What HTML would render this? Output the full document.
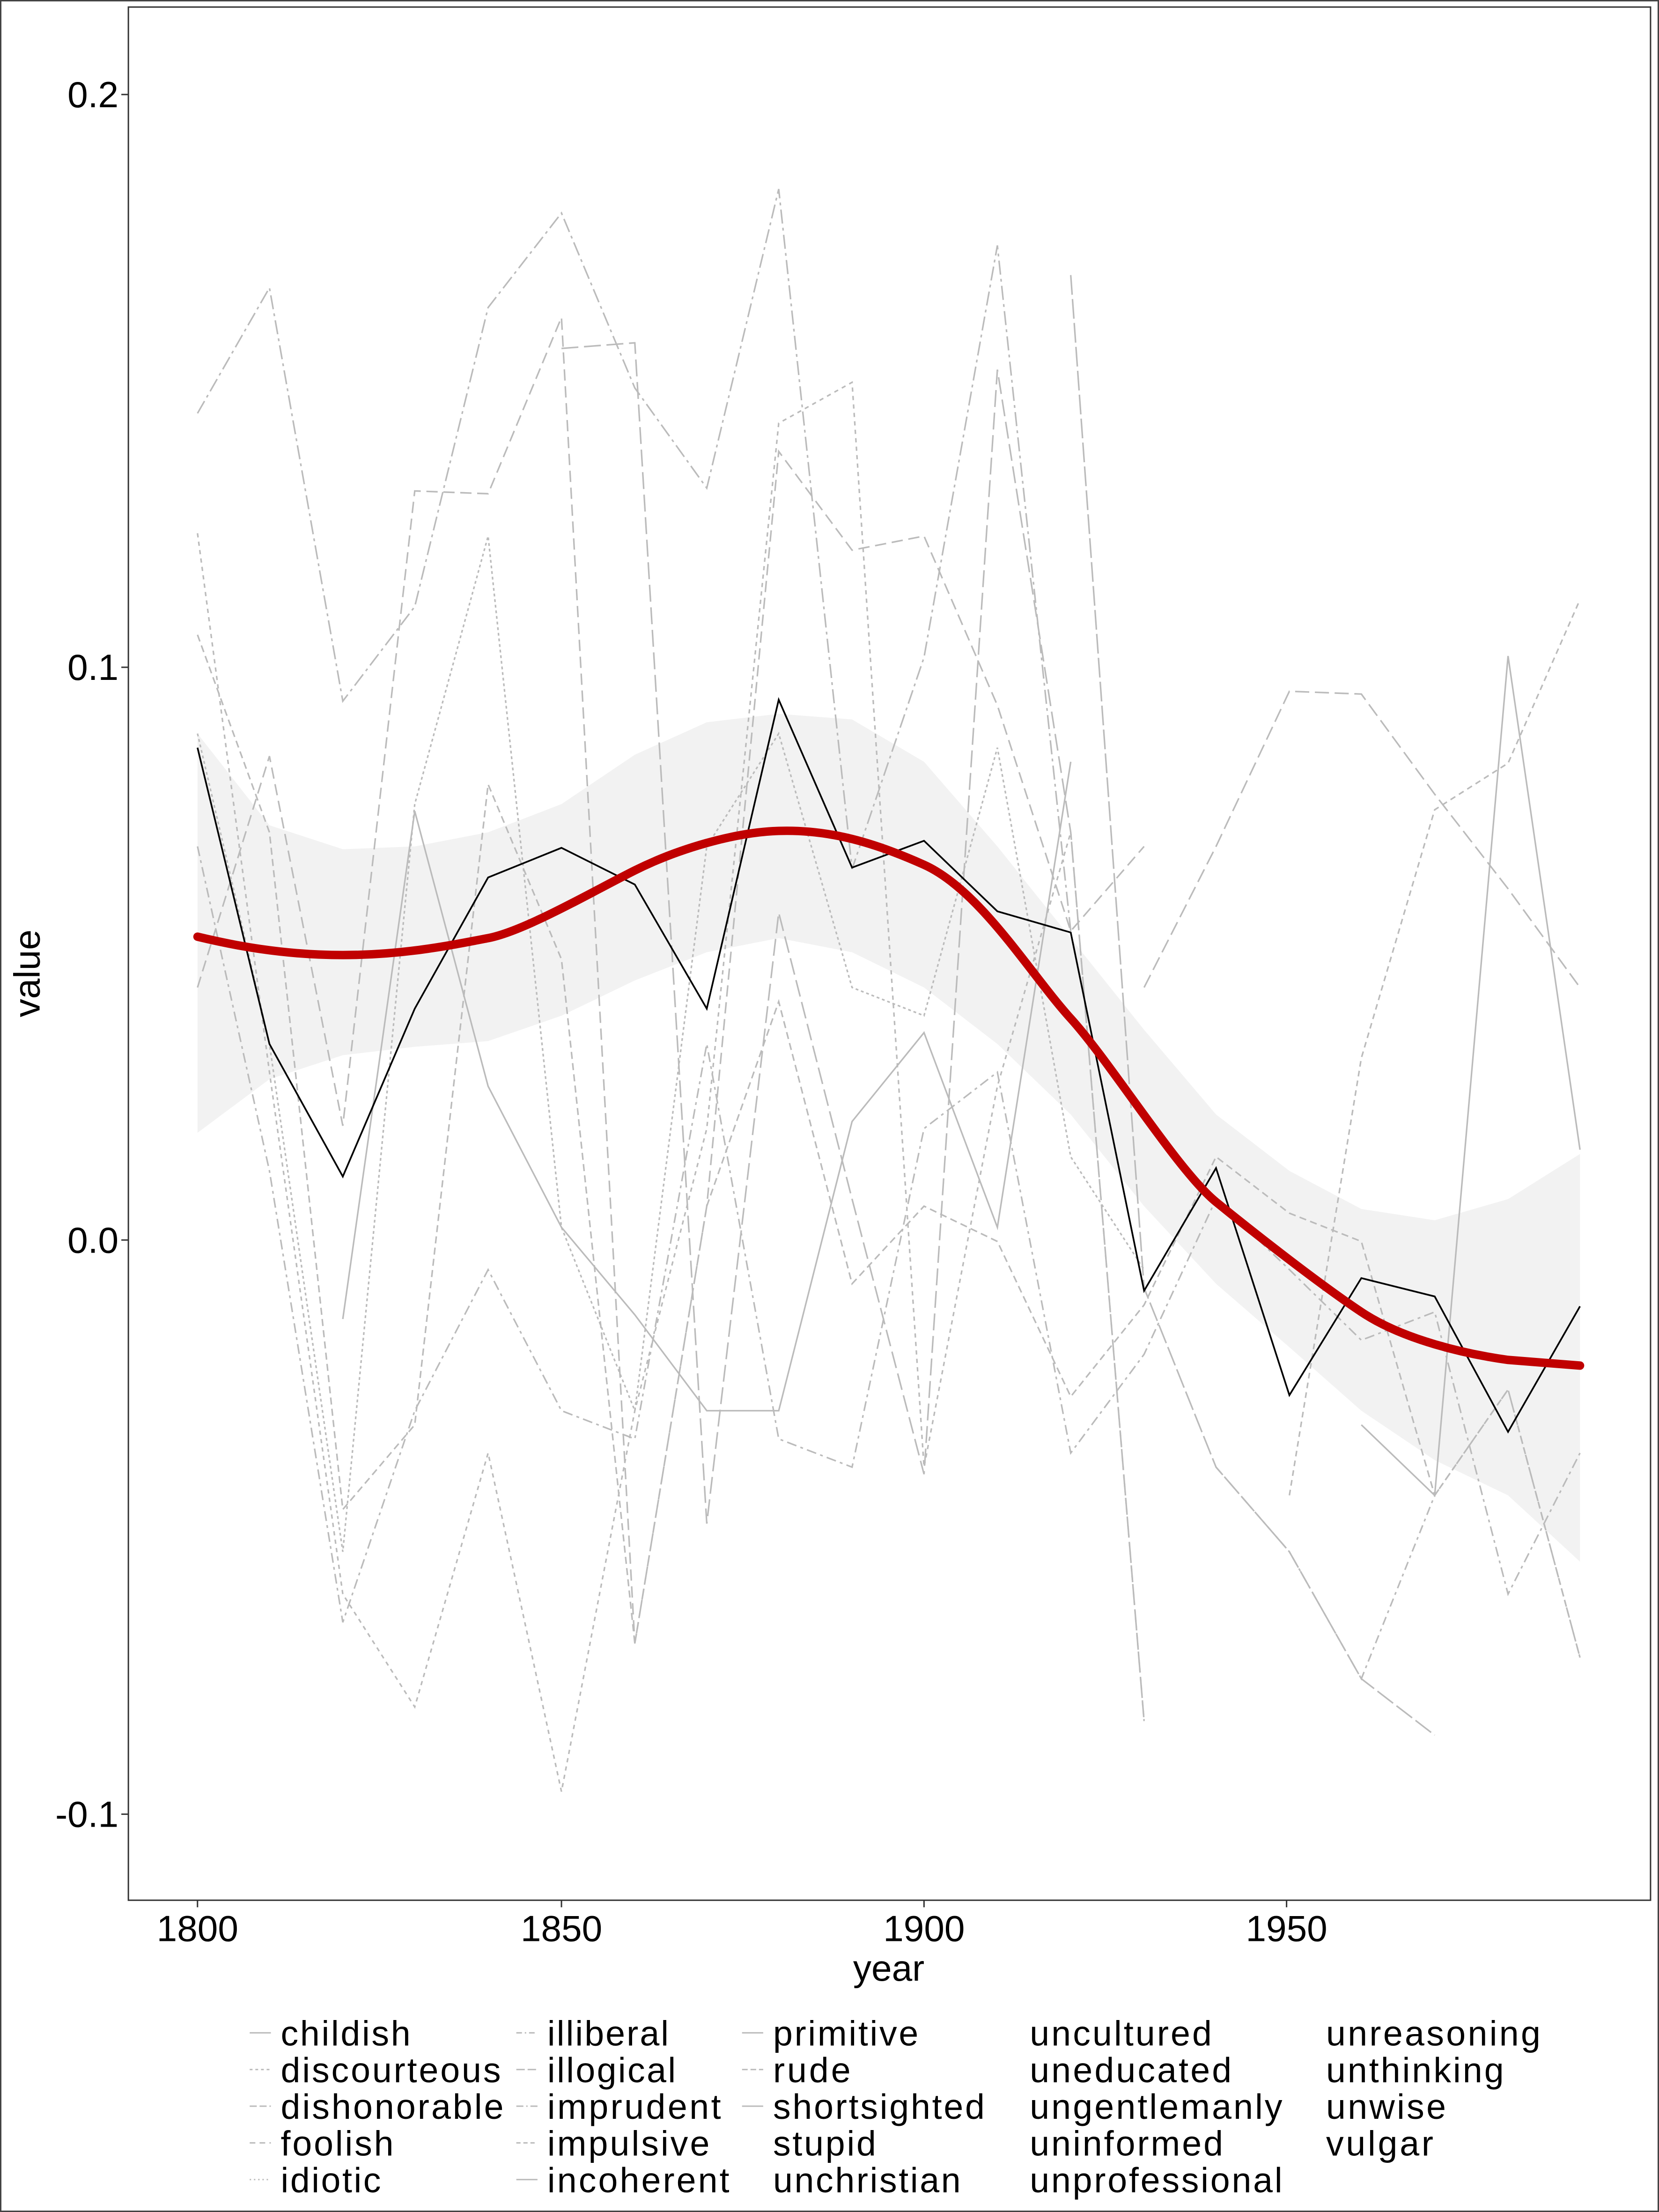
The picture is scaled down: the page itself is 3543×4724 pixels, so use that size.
<!DOCTYPE html>
<html><head><style>html,body{margin:0;padding:0;background:#fff}svg{display:block}</style></head>
<body>
<svg width="3543" height="4724" viewBox="0 0 1176 1568" preserveAspectRatio="none" xmlns="http://www.w3.org/2000/svg" font-family="Liberation Sans, sans-serif">
<rect x="0.5" y="0.5" width="1175" height="1567" fill="#fff" stroke="#444" stroke-width="1"/>
<rect x="91" y="5" width="1079" height="1342" fill="#fff" stroke="#333" stroke-width="1"/>
<path d="M140,520 L191,585 243,602 294,600 346,590 398,570 450,535 501,512 552,506 604,510 655,540 707,600 759,665 811,730 862,790 914,830 965,857 1017,865 1069,850 1120,818 L1120,1107 1069,1060 1017,1035 965,1000 914,955 862,910 811,855 759,790 707,740 655,700 604,675 552,665 501,675 450,695 398,720 346,738 294,742 243,748 191,765 140,803 Z" fill="#f2f2f2"/>
<g fill="none" stroke="#bbb" stroke-width="1.1">
<polyline stroke-dasharray="10,3,2,3" points="140,293 191,204 243,497 294,430 346,218 398,151 450,275 501,346 552,134 604,616 655,466 707,174 759,660"/>
<polyline stroke-dasharray="3,3" points="140,378 191,760 243,1130 294,1210 346,1030 398,1270 450,1000 501,800 552,300 604,271 655,1040 707,770 759,590 811,1220"/>
<polyline stroke-dasharray="8,4" points="140,700 191,536 243,798 294,348 346,350 398,225 450,1165 501,855 552,320 604,390 655,380 707,500 759,660 811,600"/>
<polyline stroke-dasharray="2,2" points="140,520 191,740 243,1100 294,570 346,380 398,870 450,1000 501,600 552,520 604,700 655,720 707,530 759,820 811,900"/>
<polyline points="243,935 294,575 346,770 398,870 450,932 501,1000 552,1000 604,795 655,732 707,870 759,540"/>
<polyline stroke-dasharray="12,4" points="398,247 450,243 501,1080 552,647 604,850 655,1045 707,262 759,590 811,1220"/>
<polyline stroke-dasharray="14,3" points="759,195 811,913 862,1040 914,1100 965,1190 1017,1230"/>
<polyline stroke-dasharray="6,3,2,3" points="862,1040 914,1100 965,1190 1017,1060 1069,985 1120,1175"/>
<polyline stroke-dasharray="10,4" points="811,700 862,600 914,490 965,492 1017,563 1069,630 1120,700"/>
<polyline stroke-dasharray="4,3" points="914,1060 965,750 1017,574 1069,541 1120,425"/>
<polyline points="965,1010 1017,1060 1069,465 1120,815"/>
<polyline stroke-dasharray="5,3" points="140,450 191,590 243,1070 294,1010 346,556 398,680 450,1165 501,855 552,710 604,910 655,855 707,880 759,990 811,925 862,820 914,860 965,880 1017,1060 1069,985 1120,1175"/>
<polyline stroke-dasharray="7,3,2,3" points="140,600 191,830 243,1150 294,1000 346,900 398,1000 450,1020 501,740 552,1020 604,1040 655,800 707,760 759,1030 811,960 862,850 914,900 965,950 1017,930 1069,1130 1120,1030"/>
</g>
<polyline fill="none" stroke="#000" stroke-width="1.2" points="140,530 191,740 243,834 294,715 346,622 398,601 450,627 501,715 552,496 604,615 655,596 707,646 759,661 811,915 862,828 914,989 965,906 1017,919 1069,1015 1120,926"/>
<path fill="none" stroke="#c00000" stroke-width="6" stroke-linecap="round" d="M140,664 C165,670 200,677 243,677 S320,670 346,665 S420,632 450,617 S520,590 552,589 S615,595 655,613 S730,690 759,722 S835,830 862,852 S935,910 965,930 S1040,960 1069,964 L1120,968"/>
<g stroke="#333" stroke-width="1">
<line x1="86" y1="67" x2="91" y2="67"/><line x1="86" y1="473" x2="91" y2="473"/><line x1="86" y1="879" x2="91" y2="879"/><line x1="86" y1="1286" x2="91" y2="1286"/>
<line x1="140" y1="1347" x2="140" y2="1352"/><line x1="398" y1="1347" x2="398" y2="1352"/><line x1="655" y1="1347" x2="655" y2="1352"/><line x1="912" y1="1347" x2="912" y2="1352"/>
</g>
<g font-size="26" fill="#000" text-anchor="end">
<text x="84" y="76">0.2</text><text x="84" y="482">0.1</text><text x="84" y="888">0.0</text><text x="84" y="1295">-0.1</text>
</g>
<g font-size="26" fill="#000" text-anchor="middle">
<text x="140" y="1376">1800</text><text x="398" y="1376">1850</text><text x="655" y="1376">1900</text><text x="912" y="1376">1950</text>
<text x="630" y="1404">year</text>
<text transform="translate(28,690) rotate(-90)">value</text>
</g>
<g stroke="#bbb" stroke-width="1">
<line x1="177" y1="1441" x2="192" y2="1441"/><line x1="177" y1="1467" x2="192" y2="1467" stroke-dasharray="2,2"/><line x1="177" y1="1493" x2="192" y2="1493" stroke-dasharray="5,2"/><line x1="177" y1="1519" x2="192" y2="1519" stroke-dasharray="4,3"/><line x1="177" y1="1545" x2="192" y2="1545" stroke-dasharray="1,2"/>
<line x1="366" y1="1441" x2="381" y2="1441" stroke-dasharray="4,2,1,2"/><line x1="366" y1="1467" x2="381" y2="1467" stroke-dasharray="6,2"/><line x1="366" y1="1493" x2="381" y2="1493" stroke-dasharray="5,2,1,2"/><line x1="366" y1="1519" x2="381" y2="1519" stroke-dasharray="3,2"/><line x1="366" y1="1545" x2="381" y2="1545"/>
<line x1="526" y1="1441" x2="541" y2="1441"/><line x1="526" y1="1467" x2="541" y2="1467" stroke-dasharray="4,2"/><line x1="526" y1="1493" x2="541" y2="1493"/>
</g>
<g font-size="25" fill="#000">
<text x="199" y="1450" textLength="92">childish</text><text x="199" y="1476" textLength="156">discourteous</text><text x="199" y="1502" textLength="158">dishonorable</text><text x="199" y="1528" textLength="80">foolish</text><text x="199" y="1554" textLength="71">idiotic</text>
<text x="388" y="1450" textLength="86">illiberal</text><text x="388" y="1476" textLength="91">illogical</text><text x="388" y="1502" textLength="123">imprudent</text><text x="388" y="1528" textLength="115">impulsive</text><text x="388" y="1554" textLength="129">incoherent</text>
<text x="548" y="1450" textLength="103">primitive</text><text x="548" y="1476" textLength="55">rude</text><text x="548" y="1502" textLength="150">shortsighted</text><text x="548" y="1528" textLength="73">stupid</text><text x="548" y="1554" textLength="133">unchristian</text>
<text x="730" y="1450" textLength="129">uncultured</text><text x="730" y="1476" textLength="143">uneducated</text><text x="730" y="1502" textLength="179">ungentlemanly</text><text x="730" y="1528" textLength="137">uninformed</text><text x="730" y="1554" textLength="179">unprofessional</text>
<text x="940" y="1450" textLength="152">unreasoning</text><text x="940" y="1476" textLength="126">unthinking</text><text x="940" y="1502" textLength="85">unwise</text><text x="940" y="1528" textLength="76">vulgar</text>
</g>
</svg>
</body></html>
